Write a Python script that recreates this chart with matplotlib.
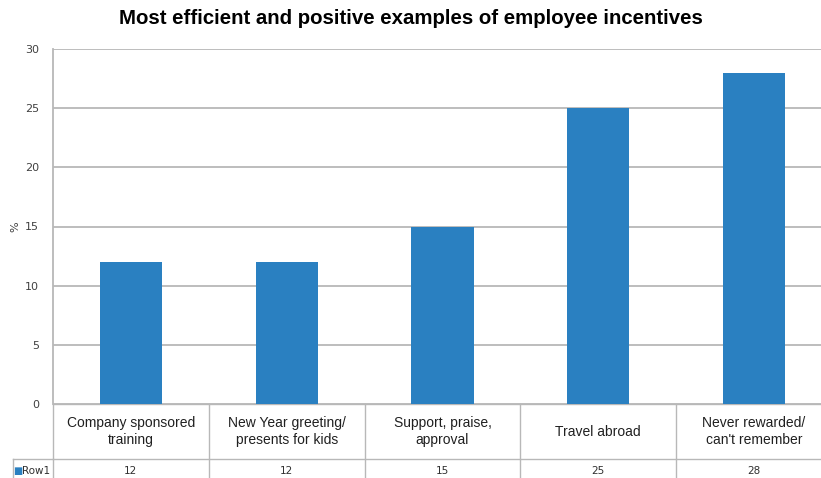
import matplotlib
matplotlib.use("Agg")
import matplotlib.pyplot as plt
from matplotlib.transforms import blended_transform_factory

categories = ["Company sponsored\ntraining", "New Year greeting/\npresents for kids",
              "Support, praise,\napproval", "Travel abroad",
              "Never rewarded/\ncan't remember"]
values = [12, 12, 15, 25, 28]
series_name = "Row1"
yticks = [0, 5, 10, 15, 20, 25, 30]

bar_color = "#2a80c1"
grid_color = "#b8b8b8"

W, H = 821, 478
fig = plt.figure(figsize=(W / 100, H / 100), dpi=100)
fig.patch.set_facecolor("white")

# axes in pixel coords: left 53, top 49, bottom 404, right beyond the figure (832)
left, top, bottom, right = 53, 49, 404, 832
ax = fig.add_axes([left / W, 1 - bottom / H, (right - left) / W, (bottom - top) / H])

x = list(range(len(categories)))
ax.bar(x, values, width=0.4, color=bar_color, zorder=3)
ax.set_xlim(-0.5, len(categories) - 0.5)
ax.set_ylim(0, 30)
ax.set_yticks(yticks)
ax.set_xticks([])
ax.yaxis.grid(True, color=grid_color, linewidth=1.3, zorder=0)
ax.tick_params(axis="y", length=0, pad=10, labelsize=8, labelcolor="#404040")
for s in ["top", "right", "bottom"]:
    ax.spines[s].set_visible(False)
ax.spines["left"].set_color(grid_color)
ax.spines["left"].set_linewidth(1.3)
fig.text(15 / W, 1 - 227 / H, "%", rotation=90, ha="center", va="center",
         fontsize=8, color="#404040")

fig.text(0.5, 1 - 19 / H, "Most efficient and positive examples of employee incentives",
         ha="center", va="center", fontsize=14.7, fontweight="bold",
         family="Liberation Sans")

# data table under the chart
tr = blended_transform_factory(ax.transData, ax.transAxes)
ph = bottom - top
pw = right - left
y_row = -55 / ph      # separator between label row and value row
y_bot = -80 / ph
y_val = -67 / ph
line_kw = dict(color=grid_color, linewidth=1.0, clip_on=False)
for b in [-0.5] + [i + 0.5 for i in x]:
    ax.plot([b, b], [0, y_bot], transform=tr, **line_kw)
ax.plot([-0.5, len(categories) - 0.5], [y_row, y_row], transform=tr, **line_kw)
ax.plot([-0.5, len(categories) - 0.5], [0, 0], transform=tr, **line_kw)
# legend cell on the left of the value row
tra = ax.transAxes
lx = (13 - left) / pw
ax.plot([lx, 0], [y_row, y_row], transform=tra, **line_kw)
ax.plot([lx, lx], [y_row, y_bot], transform=tra, **line_kw)
ax.text((18 - left) / pw, y_val, "\u25a0", transform=tra,
        ha="center", va="center", fontsize=7, color=bar_color, clip_on=False)
ax.text((22 - left) / pw, y_val, series_name, transform=tra,
        ha="left", va="center", fontsize=7.5, color="#303030", clip_on=False)

for i, (c, v) in enumerate(zip(categories, values)):
    ax.text(i, y_row / 2, c, transform=tr, ha="center", va="center",
            fontsize=10, family="Liberation Sans", color="#202020",
            linespacing=1.25, clip_on=False)
    ax.text(i, y_val, str(v), transform=tr, ha="center",
            va="center", fontsize=7.5, color="#303030", clip_on=False)

fig.savefig("out.png", dpi=100)
